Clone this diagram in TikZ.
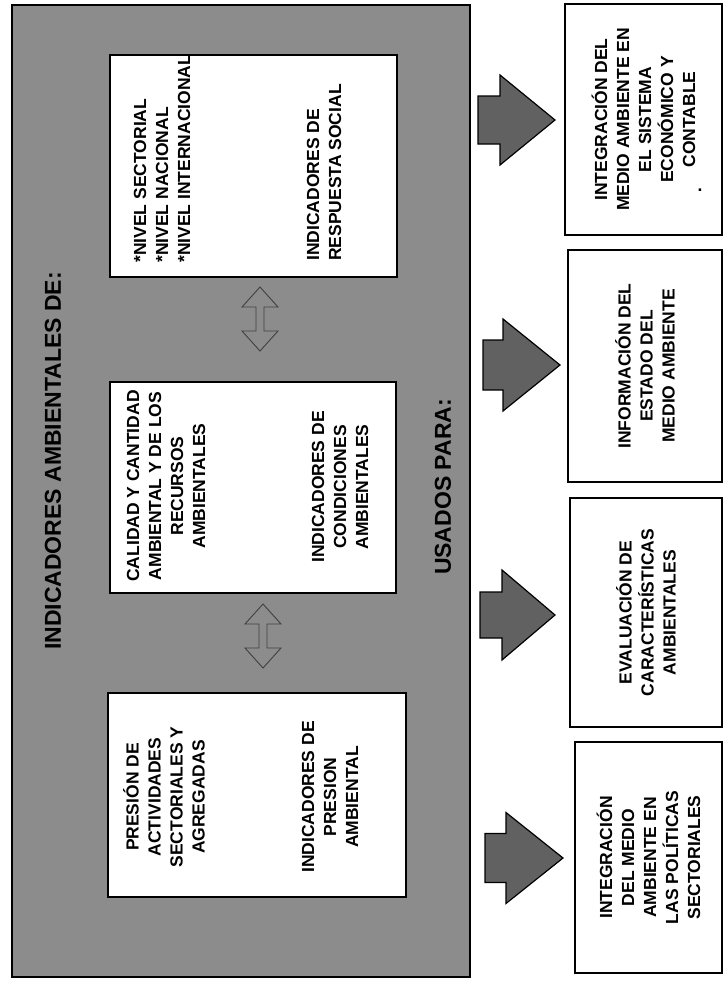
\documentclass[tikz,border=0pt]{standalone}
\usepackage{fontspec}
\setmainfont{Liberation Sans}
\begin{document}
\begin{tikzpicture}[x=1pt,y=-1pt,
  every node/.style={inner sep=0pt, font=\bfseries\fontsize{17.5}{22}\selectfont},
  outerbox/.style={draw, line width=1.8pt, fill=black!45},
  innerbox/.style={draw, line width=1.6pt, fill=white},
  outbox/.style={draw, line width=1.6pt, fill=white, rotate=90, align=center},
  txt/.style={rotate=90, align=center},
  txtl/.style={rotate=90, align=left, anchor=west},
  fatarrow/.style={draw, line width=1.2pt, fill=black!62},
  dblarrow/.style={draw=black!75, line width=0.9pt},
  bigtitle/.style={rotate=90, font=\bfseries\fontsize{23}{27}\selectfont}]
\useasboundingbox (0,0) rectangle (724,982);

% outer shaded panel
\node[outerbox, minimum width=458pt, minimum height=972pt] (outer) at (241,491) {};
\node[bigtitle] (title) at (53,461) {INDICADORES AMBIENTALES DE:};
\node[bigtitle] (usados) at (443,487) {USADOS PARA:};

% inner boxes
\node[innerbox, minimum width=287pt, minimum height=222pt] (in1) at (253.5,166) {};
\node[innerbox, minimum width=286pt, minimum height=211pt] (in2) at (253,487.5) {};
\node[innerbox, minimum width=298pt, minimum height=204pt] (in3) at (257,795) {};

\node[txtl] (t1a) at (162,263) {*NIVEL SECTORIAL\\*NIVEL NACIONAL\\*NIVEL INTERNACIONAL};
\node[txtl] (t1b) at (324,261) {INDICADORES DE\\RESPUESTA SOCIAL};

\node[txt] (t2a) at (166,486) {CALIDAD Y CANTIDAD\\AMBIENTAL Y DE LOS\\RECURSOS\\AMBIENTALES};
\node[txt] (t2b) at (340,487) {INDICADORES DE\\CONDICIONES\\AMBIENTALES};

\node[txt] (t3a) at (164,797) {PRESIÓN DE\\ACTIVIDADES\\SECTORIALES Y\\AGREGADAS};
\node[txt] (t3b) at (330,797) {INDICADORES DE\\PRESION\\AMBIENTAL};

% double arrows between inner boxes
\coordinate (d1) at (260,287);
\draw[dblarrow] (d1) -- ++(18,20) -- ++(-14,0) -- ++(0,24) -- ++(14,0) -- ++(-18,20) -- ++(-18,-20) -- ++(14,0) -- ++(0,-24) -- ++(-14,0) -- cycle;
\coordinate (d2) at (263,604);
\draw[dblarrow] (d2) -- ++(18,20) -- ++(-14,0) -- ++(0,24) -- ++(14,0) -- ++(-18,20) -- ++(-18,-20) -- ++(14,0) -- ++(0,-24) -- ++(-14,0) -- cycle;

% right boxes
\node[outbox, minimum width=231pt, minimum height=157pt] (rA) at (643.5,119.5) {INTEGRACIÓN DEL\\MEDIO AMBIENTE EN\\EL SISTEMA\\ECONÓMICO Y\\CONTABLE};
\node (dotA) at (700,190) {.};
\node[outbox, minimum width=232pt, minimum height=154pt] (rB) at (645,366) {INFORMACIÓN DEL\\ESTADO DEL\\MEDIO AMBIENTE};
\node[outbox, minimum width=229pt, minimum height=152pt] (rC) at (646,612.5) {EVALUACIÓN DE\\CARACTERÍSTICAS\\AMBIENTALES};
\node[outbox, minimum width=231pt, minimum height=147pt] (rD) at (648.5,857.5) {INTEGRACIÓN\\DEL MEDIO\\AMBIENTE EN\\LAS POLÍTICAS\\SECTORIALES};

% fat arrows
\coordinate (a1) at (478,120);
\draw[fatarrow] (a1) ++(0,-24) -- ++(22,0) -- ++(0,-21) -- ++(55,45) -- ++(-55,45) -- ++(0,-21) -- ++(-22,0) -- cycle;
\coordinate (a2) at (483,365);
\draw[fatarrow] (a2) ++(0,-25) -- ++(20,0) -- ++(0,-21) -- ++(57,46) -- ++(-57,46) -- ++(0,-21) -- ++(-20,0) -- cycle;
\coordinate (a3) at (480,615);
\draw[fatarrow] (a3) ++(0,-23) -- ++(22,0) -- ++(0,-22) -- ++(53,45) -- ++(-53,45) -- ++(0,-22) -- ++(-22,0) -- cycle;
\coordinate (a4) at (485,858);
\draw[fatarrow] (a4) ++(0,-24.5) -- ++(21,0) -- ++(0,-21) -- ++(57,45.5) -- ++(-57,45.5) -- ++(0,-21) -- ++(-21,0) -- cycle;
\end{tikzpicture}
\end{document}
